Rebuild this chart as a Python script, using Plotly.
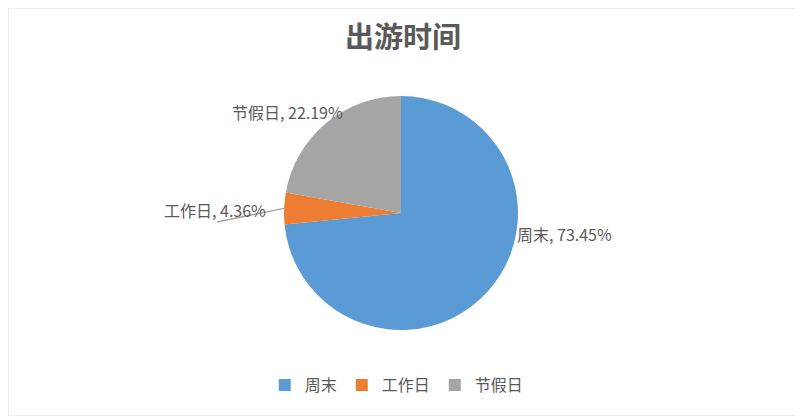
import math
import plotly.graph_objects as go

labels = ["周末", "工作日", "节假日"]
values = [73.45, 4.36, 22.19]
colors = ["#5B9BD5", "#ED7D31", "#A5A5A5"]
title = "出游时间"

# figure size (page body adds 8px margin, so fit inside the 803x416 window)
W, H = 795, 408
FONT = "Noto Sans CJK SC"
GREY = "#595959"

# pie placement in pixels
cx, cy, r = 393, 205, 117

# label anchor positions (paper coords) and anchors
label_pos = {
    "周末": (0.6377, 0.446, "left"),
    "工作日": (0.327, 0.505, "right"),
    "节假日": (0.4239, 0.745, "right"),
}
leader_end = (0.2629, 0.4755)

fig = go.Figure(go.Pie(
    labels=labels, values=values, sort=False, direction="clockwise", rotation=0,
    marker=dict(colors=colors, line=dict(width=0)),
    textinfo="none", hoverinfo="label+percent",
    domain=dict(x=[(cx - r) / W - (cx - r) / W, 2 * cx / W],
                y=[1 - (cy + r) / H, 1 - (cy - r) / H]),
))

total = sum(values)
annotations = []
shapes = []
cum = 0
for lab, val in zip(labels, values):
    x, y, anchor = label_pos[lab]
    annotations.append(dict(
        text=f"{lab}, {val / total * 100:.2f}%", x=x, y=y, xref="paper", yref="paper",
        xanchor=anchor, yanchor="middle", showarrow=False,
        font=dict(family=FONT, size=16, color=GREY)))
    mid = (cum + val / 2) / total * 2 * math.pi
    cum += val
    if lab == "工作日":
        px = cx + r * math.sin(mid)
        py = cy - r * math.cos(mid)
        shapes.append(dict(type="line", xref="paper", yref="paper",
                           x0=leader_end[0], y0=leader_end[1], x1=px / W, y1=1 - py / H,
                           line=dict(color="#A5A5A5", width=1.5)))

shapes.append(dict(type="rect", xref="paper", yref="paper", x0=0, y0=0, x1=1, y1=1,
                   line=dict(color="#D9D9D9", width=1)))

fig.update_layout(
    width=W, height=H,
    margin=dict(l=0, r=0, t=0, b=0, autoexpand=False),
    paper_bgcolor="white",
    title=dict(text="<b>" + title + "</b>", x=0.497, y=0.926, xanchor="center", yanchor="middle",
               font=dict(family=FONT, size=29, color=GREY)),
    legend=dict(orientation="h", x=0.489, xanchor="center", y=0.076, yanchor="middle",
                font=dict(family=FONT, size=16, color=GREY), itemwidth=30),
    annotations=annotations,
    shapes=shapes,
)

fig.write_html("out.html")
